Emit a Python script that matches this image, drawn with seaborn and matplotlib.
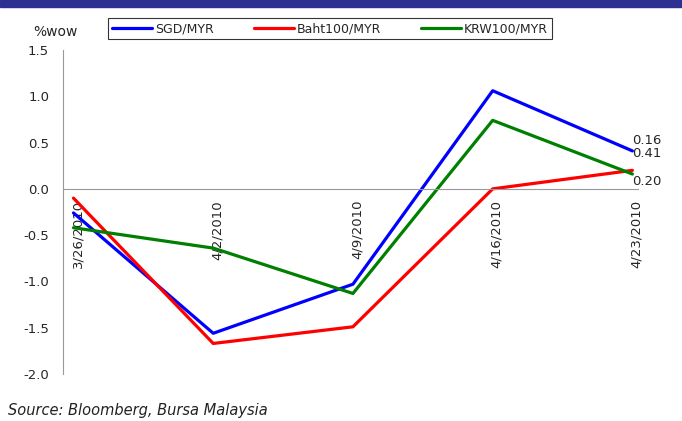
import numpy as np
import pandas as pd
import seaborn as sns
import matplotlib.pyplot as plt
from matplotlib.patches import Rectangle

# ─── DATA ─────────────────────────────────────
dates = ["3/26/2010", "4/2/2010", "4/9/2010", "4/16/2010", "4/23/2010"]
sgd = [-0.26, -1.56, -1.03, 1.06, 0.41]
baht = [-0.10, -1.67, -1.49, 0.00, 0.20]
krw = [-0.42, -0.64, -1.13, 0.74, 0.16]
series_names = ["SGD/MYR", "Baht100/MYR", "KRW100/MYR"]
end_labels = ["0.16", "0.41", "0.20"]
colors = ["#0000FF", "#FF0000", "#008000"]

df = pd.DataFrame({
    "x": list(range(len(dates))) * 3,
    "val": sgd + baht + krw,
    "series": [s for s in series_names for _ in dates],
})

sns.set_style("white")
plt.rcParams["font.family"] = ["DejaVu Sans"]

fig = plt.figure(figsize=(6.82, 4.21), dpi=100)
ax = fig.add_axes([63 / 682, 1 - 374 / 421, 575 / 682, 324 / 421])

sns.lineplot(data=df, x="x", y="val", hue="series", palette=colors,
             linewidth=2.3, ax=ax, legend=True)

# spines first (setting position resets the ticks)
for s in ["top", "right"]:
    ax.spines[s].set_visible(False)
ax.spines["bottom"].set_position(("data", 0))
ax.spines["left"].set_color("#999999")
ax.spines["bottom"].set_color("#999999")
ax.spines["left"].set_linewidth(0.8)
ax.spines["bottom"].set_linewidth(0.8)

ax.set_ylim(-2.0, 1.5)
ax.set_yticks(np.arange(-2.0, 1.51, 0.5))
ax.set_yticklabels([f"{v:.1f}" for v in np.arange(-2.0, 1.51, 0.5)], fontsize=9.5)
ax.set_xlim(-0.07, 4.04)
# tick marks slightly left of the points, labels near the points
ax.set_xticks([i - 0.075 for i in range(len(dates))])
ax.set_xticklabels([])
ax.set_xticks([i + 0.03 for i in range(len(dates))], minor=True)
ax.set_xticklabels(dates, minor=True, rotation=90, fontsize=9.5, va="top", ha="center")
ax.set_xlabel("")
ax.set_ylabel("")

ax.tick_params(axis="y", direction="out", length=4, color="#999999", pad=6)
ax.tick_params(axis="x", which="major", direction="out", length=4, color="#999999")
ax.tick_params(axis="x", which="minor", length=0, pad=8)

# end labels
ax.text(4.0, 0.525, end_labels[0], fontsize=9.5, ha="left", va="center")
ax.text(4.0, 0.385, end_labels[1], fontsize=9.5, ha="left", va="center")
ax.text(4.0, 0.075, end_labels[2], fontsize=9.5, ha="left", va="center")

leg = ax.legend(loc="center", bbox_to_anchor=(108 / 682, 1 - 42 / 421, 444 / 682, 27 / 421),
                bbox_transform=fig.transFigure, ncol=3, mode="expand", frameon=True,
                fancybox=False, fontsize=9, handlelength=3.2, handletextpad=0.2,
                borderaxespad=0, borderpad=0.35)
leg.get_frame().set_edgecolor("black")
leg.get_frame().set_linewidth(0.8)

fig.text(55 / 682, 1 - 32 / 421, "%wow", fontsize=10, ha="center", va="center")
fig.text(8 / 682, 1 - 410 / 421, "Source: Bloomberg, Bursa Malaysia",
         fontsize=10.5, style="italic", ha="left", va="center", color="#222222")

# top navy bar
fig.patches.append(Rectangle((0, 1 - 7 / 421), 1, 7 / 421, transform=fig.transFigure,
                             color="#2E3192", zorder=5))

fig.savefig("out.png", dpi=100)
